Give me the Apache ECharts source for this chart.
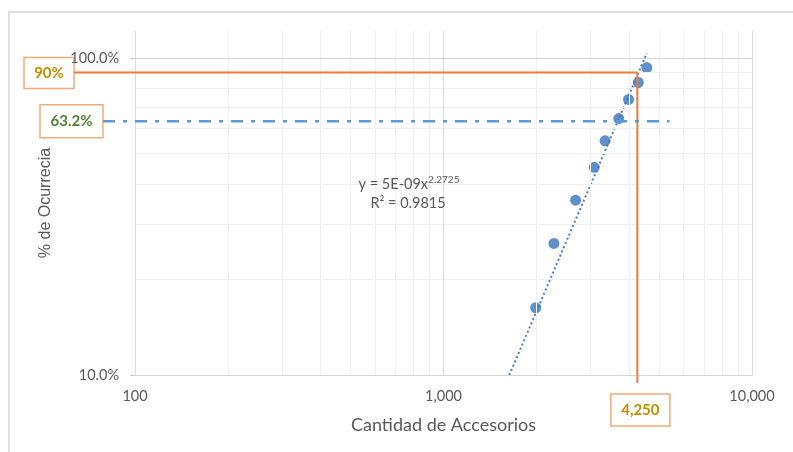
<!DOCTYPE html>
<html><head><meta charset="utf-8">
<script src="https://cdn.jsdelivr.net/npm/echarts@6/dist/echarts.min.js"></script>
<style>html,body{margin:0;padding:0;background:#fff}#c{width:793px;height:452px}</style>
</head><body><div id="c"></div>
<script>
// Data
const accesorios = [1990, 2280, 2680, 3080, 3340, 3700, 3980, 4280, 4560];
const ocurrencia = [0.163, 0.260, 0.356, 0.452, 0.548, 0.644, 0.740, 0.837, 0.933];
// Power trendline (y = 5E-09x^2.2725), endpoints as seen
const trendX = [1634, 4560];
const trendY = [0.100, 1.035];
const xMajor = [100, 1000, 10000];
const xMinor = [200, 300, 400, 500, 600, 700, 800, 900, 2000, 3000, 4000, 5000, 6000, 7000, 8000, 9000];
const yMajor = [0.1, 1];
const yMinor = [0.2, 0.3, 0.4, 0.5, 0.6, 0.7, 0.8, 0.9];
const refPct = 0.9, refX = 4250, charPct = 0.632, charLineEnd = 5400;
const equation = ['y = 5E-09x', '2.2725'];
const r2Text = 'R\u00b2 = 0.9815';

const F = 'Lato, "Open Sans", sans-serif';
const chart = echarts.init(document.getElementById('c'), null, {renderer: 'canvas'});
const pts = accesorios.map((x, i) => [x, ocurrencia[i]]);
const trend = trendX.map((x, i) => [x, trendY[i]]);
const gridLines = [].concat(
  xMinor.map(v => ({xAxis: v, lineStyle: {color: '#efefef', width: 1}})),
  yMinor.map(v => ({yAxis: v, lineStyle: {color: '#efefef', width: 1}})),
  xMajor.map(v => ({xAxis: v, lineStyle: {color: '#dcdcdc', width: 1}})),
  yMajor.map(v => ({yAxis: v, lineStyle: {color: '#d4d4d4', width: 1.2}}))
);
chart.setOption({
  animation: false,
  backgroundColor: '#fff',
  grid: {left: 135, right: 41, top: 31, bottom: 77},
  xAxis: {
    type: 'log', logBase: 10, min: 100, max: 10000,
    axisLine: {show: true, lineStyle: {color: '#d4d4d4'}},
    axisTick: {show: false}, splitLine: {show: false},
    axisLabel: {color: '#595959', fontFamily: F, fontSize: 14.5, margin: 14,
      formatter: v => Number(v).toLocaleString('en-US')},
    name: 'Cantidad de Accesorios', nameLocation: 'middle', nameGap: 41,
    nameTextStyle: {color: '#595959', fontFamily: F, fontSize: 18}
  },
  yAxis: {
    type: 'log', logBase: 10, min: 0.1, max: 1.2167,
    axisLine: {show: true, lineStyle: {color: '#d0d0d0'}},
    axisTick: {show: true, length: 5, customValues: yMajor, lineStyle: {color: '#c8c8c8'}},
    splitLine: {show: false},
    axisLabel: {color: '#595959', fontFamily: F, fontSize: 14.5, margin: 16, customValues: yMajor,
      formatter: v => (v * 100).toFixed(1) + '%'},
    name: '% de Ocurrecia', nameLocation: 'middle', nameGap: 81,
    nameTextStyle: {color: '#595959', fontFamily: '"Liberation Sans", Arial, sans-serif', fontSize: 16}
  },
  series: [
    {type: 'line', data: [], z: 0, silent: true,
      markLine: {silent: true, symbol: 'none', label: {show: false}, animation: false,
        lineStyle: {type: 'solid'}, data: gridLines}},
    {type: 'line', data: trend, showSymbol: false, symbol: 'none', clip: false, z: 3,
      lineStyle: {color: '#4a7ec4', width: 2, type: [2, 2.6]}},
    {type: 'scatter', data: pts, symbolSize: 11, z: 4,
      itemStyle: {color: '#3873bb'}}
  ]
});

function annotate() {
  const p = (x, y) => chart.convertToPixel({xAxisIndex: 0, yAxisIndex: 0}, [x, y]);
  const p90 = p(refX, refPct);
  const pBottom = p(refX, 0.1);
  const p632 = p(charLineEnd, charPct);
  const orange = '#ee7b3a', boxStroke = '#f3a978';
  const box = (cx, cy, w, h, text, color) => ({
    type: 'group', z: 20,
    children: [
      {type: 'rect', shape: {x: cx - w / 2, y: cy - h / 2, width: w, height: h},
        style: {fill: '#fff', stroke: boxStroke, lineWidth: 1.5}},
      {type: 'text', x: cx, y: cy, style: {text: text, fill: color, font: 'bold 15px ' + F,
        textAlign: 'center', textVerticalAlign: 'middle'}}
    ]
  });
  chart.setOption({
    graphic: [
      {type: 'rect', z: 1, shape: {x: 9, y: 12, width: 800, height: 460},
        style: {fill: 'none', stroke: '#d6d6d6', lineWidth: 1.5}},
      {type: 'line', z: 15, shape: {x1: 74, y1: p90[1], x2: p90[0], y2: p90[1]},
        style: {stroke: orange, lineWidth: 2}},
      {type: 'line', z: 15, shape: {x1: p90[0], y1: p90[1], x2: p90[0], y2: pBottom[1] + 8},
        style: {stroke: orange, lineWidth: 2}},
      {type: 'line', z: 15, shape: {x1: 103, y1: p632[1], x2: p632[0], y2: p632[1]},
        style: {stroke: '#5b9bd5', lineWidth: 2.5, lineDash: [12, 8, 4, 8]}},
      box(49, p90[1] + 0.5, 50, 31, '90%', '#bf9000'),
      box(71.5, p632[1], 63, 33, '63.2%', '#548235'),
      box(p90[0] + 3, 410, 59, 32, refX.toLocaleString('en-US'), '#bf9000'),
      {type: 'text', z: 16, x: 409, y: 184, style: {
        text: '{a|' + equation[0] + '}{s|' + equation[1] + '}',
        rich: {a: {fontFamily: F, fontSize: 14.5, fill: '#595959'},
               s: {fontFamily: F, fontSize: 10, fill: '#595959', padding: [0, 0, 9, 0]}},
        textAlign: 'center', textVerticalAlign: 'middle'}},
      {type: 'text', z: 16, x: 408, y: 203, style: {text: r2Text, fill: '#595959',
        font: '14.5px ' + F, textAlign: 'center', textVerticalAlign: 'middle'}}
    ]
  });
}
annotate();
</script></body></html>
